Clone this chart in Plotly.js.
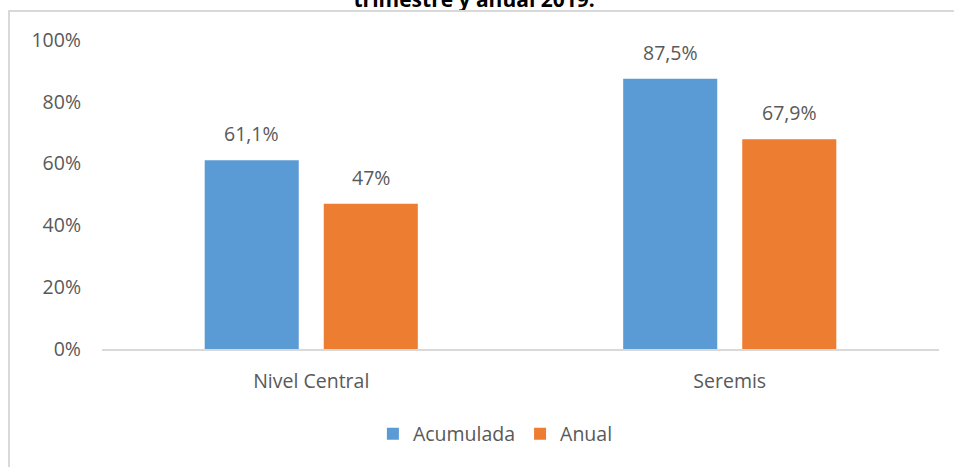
<!DOCTYPE html>
<html>
<head>
<meta charset="utf-8">
<script src="https://cdn.plot.ly/plotly-3.0.1.min.js"></script>
<style>
  html, body { margin: 0; padding: 0; background: #fff; }
  #wrap { position: relative; width: 954px; height: 467px; }
  #chart { width: 954px; height: 467px; }
  #frame { position: absolute; left: 8px; top: 10px; width: 946px; height: 457px;
           border-left: 2px solid #d9d9d9; border-top: 2px solid #d9d9d9; box-sizing: border-box;
           pointer-events: none; }
</style>
</head>
<body>
<div id="wrap">
  <div id="chart"></div>
  <div id="frame"></div>
</div>
<script>
const categories = ["Nivel Central", "Seremis"];
const seriesNames = ["Acumulada", "Anual"];
const acumulada = [0.611, 0.875];
const anual = [0.47, 0.679];
const acumuladaLabels = ["61,1%", "87,5%"];
const anualLabels = ["47%", "67,9%"];
const tickValues = [0, 0.2, 0.4, 0.6, 0.8, 1.0];
const tickLabels = ["0%", "20%", "40%", "60%", "80%", "100%"];
const titleText = "trimestre y anual 2019.";

const colors = ["#5B9BD5", "#ED7D31"];
const textColor = "#595959";
const fontFamily = "'Open Sans', 'Noto Sans', sans-serif";
const fs = 19.5;

const traces = [
  { type: "bar", name: seriesNames[0], x: categories, y: acumulada, marker: { color: colors[0] }, hoverinfo: "none" },
  { type: "bar", name: seriesNames[1], x: categories, y: anual, marker: { color: colors[1] }, hoverinfo: "none" }
];

// data labels above bars
const offset = 0.142;
const annotations = [];
categories.forEach((c, i) => {
  annotations.push({ x: i - offset, y: acumulada[i], xref: "x", yref: "y", text: acumuladaLabels[i],
    showarrow: false, yanchor: "bottom", yshift: 11, font: { size: fs, color: textColor, family: fontFamily } });
  annotations.push({ x: i + offset, y: anual[i], xref: "x", yref: "y", text: anualLabels[i],
    showarrow: false, yanchor: "bottom", yshift: 11, font: { size: fs, color: textColor, family: fontFamily } });
});

const layout = {
  width: 954, height: 467,
  margin: { l: 102, r: 15, t: 40, b: 118 },
  paper_bgcolor: "#ffffff", plot_bgcolor: "#ffffff",
  font: { family: fontFamily, color: textColor, size: fs },
  title: { text: "<b>" + titleText + "</b>", x: 0.497, xanchor: "center", y: 1.0, yanchor: "middle",
           yref: "container", font: { size: 21, color: "#000000", family: fontFamily } },
  barmode: "group",
  bargap: 0.431,
  bargroupgap: 0.21,
  showlegend: true,
  legend: { orientation: "h", x: 0.47, xanchor: "center", y: -0.275, yanchor: "middle",
            font: { size: fs, color: textColor, family: fontFamily }, itemwidth: 30, tracegroupgap: 0 },
  xaxis: { type: "category", showline: true, linecolor: "#d9d9d9", linewidth: 2, showgrid: false,
           ticks: "", ticklabelstandoff: 14, tickfont: { size: fs, color: textColor }, fixedrange: true },
  yaxis: { range: [0, 1], tickvals: tickValues, ticktext: tickLabels, showgrid: false, zeroline: false,
           showline: false, ticks: "", ticklabelstandoff: 20, tickfont: { size: fs, color: textColor }, fixedrange: true },
  annotations: annotations
};

Plotly.newPlot("chart", traces, layout, { displayModeBar: false, staticPlot: true });
</script>
</body>
</html>
